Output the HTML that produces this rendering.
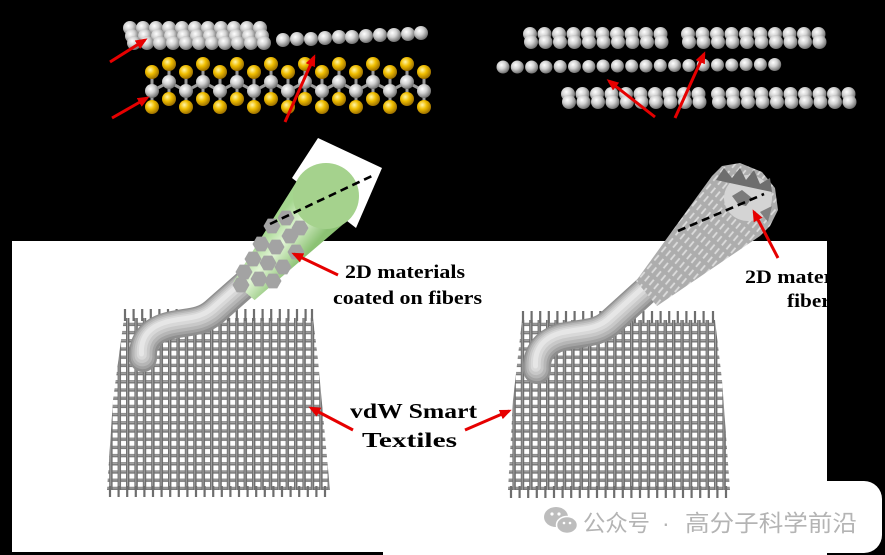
<!DOCTYPE html>
<html><head><meta charset="utf-8"><style>
html,body{margin:0;padding:0;background:#000;}
svg{display:block;}
</style></head><body>
<svg width="885" height="555" viewBox="0 0 885 555" xmlns="http://www.w3.org/2000/svg" xmlns:xlink="http://www.w3.org/1999/xlink">
<defs>
<radialGradient id="gg" cx="0.38" cy="0.35" r="0.68"><stop offset="0" stop-color="#ffffff"/><stop offset="0.45" stop-color="#d2d2d2"/><stop offset="1" stop-color="#6a6a6a"/></radialGradient>
<radialGradient id="yg" cx="0.38" cy="0.35" r="0.68"><stop offset="0" stop-color="#fff5a8"/><stop offset="0.45" stop-color="#f0be00"/><stop offset="1" stop-color="#986c00"/></radialGradient>
<circle id="s" r="7" fill="url(#gg)"/>
<circle id="sm" r="6.5" fill="url(#gg)"/>
<circle id="y" r="7" fill="url(#yg)"/>
<marker id="ah" markerWidth="12" markerHeight="10" refX="9" refY="5" orient="auto" markerUnits="userSpaceOnUse"><path d="M0,0 L12,5 L0,10 Z" fill="#e60000"/></marker>
<pattern id="mesh" width="8.4" height="8.2" patternUnits="userSpaceOnUse">
<rect width="8.4" height="8.2" fill="#ffffff"/>
<rect x="0" y="3" width="8.4" height="3.3" fill="#7c7c7c"/>
<rect x="0" y="0" width="3.4" height="8.2" fill="#6c6c6c"/>
<rect x="0.9" y="0" width="1.1" height="8.2" fill="#9e9e9e"/>
<rect x="3.4" y="3.8" width="5" height="1" fill="#a4a4a4"/>
</pattern>
<pattern id="flk" width="11" height="6" patternUnits="userSpaceOnUse" patternTransform="rotate(-50)">
<rect width="11" height="6" fill="#adadad"/>
<rect x="1" y="1.8" width="7" height="1.8" fill="#dcdcdc"/>
</pattern>
<linearGradient id="grn" gradientUnits="userSpaceOnUse" x1="267.6" y1="228.5" x2="302.4" y2="258.5">
<stop offset="0" stop-color="#a4d68e"/><stop offset="0.45" stop-color="#e2f5d6"/><stop offset="1" stop-color="#8cc274"/>
</linearGradient>
<polygon id="hx" points="8.5,0 4.25,7.4 -4.25,7.4 -8.5,0 -4.25,-7.4 4.25,-7.4" fill="#a3a3a3"/>
<path id="lt" d="M143,358 C142,342 150,331 168,326 C186,321 200,324 214,312 L248,282"/>
<path id="rt" d="M537,370 C536,354 544,342 562,337 C582,332 598,335 612,321 L654,283"/>
</defs>

<!-- backgrounds -->
<rect width="885" height="555" fill="#000"/>
<rect x="12" y="241" width="815" height="311" fill="#fff"/>
<rect x="383" y="540" width="444" height="15" fill="#fff"/>
<rect x="540" y="481" width="342" height="72" rx="18" fill="#fff"/>

<!-- top-left graphene -->
<g>
<use href="#s" x="130" y="28"/><use href="#s" x="143" y="28"/><use href="#s" x="156" y="28"/><use href="#s" x="169" y="28"/><use href="#s" x="182" y="28"/><use href="#s" x="195" y="28"/><use href="#s" x="208" y="28"/><use href="#s" x="221" y="28"/><use href="#s" x="234" y="28"/><use href="#s" x="247" y="28"/><use href="#s" x="260" y="28"/>
<use href="#s" x="132" y="36"/><use href="#s" x="145" y="36"/><use href="#s" x="158" y="36"/><use href="#s" x="171" y="36"/><use href="#s" x="184" y="36"/><use href="#s" x="197" y="36"/><use href="#s" x="210" y="36"/><use href="#s" x="223" y="36"/><use href="#s" x="236" y="36"/><use href="#s" x="249" y="36"/><use href="#s" x="262" y="36"/>
<use href="#s" x="134" y="43"/><use href="#s" x="147" y="43"/><use href="#s" x="160" y="43"/><use href="#s" x="173" y="43"/><use href="#s" x="186" y="43"/><use href="#s" x="199" y="43"/><use href="#s" x="212" y="43"/><use href="#s" x="225" y="43"/><use href="#s" x="238" y="43"/><use href="#s" x="251" y="43"/><use href="#s" x="264" y="43"/>
</g>
<g>
<use href="#s" x="283" y="40"/><use href="#s" x="297" y="39"/><use href="#s" x="311" y="39"/><use href="#s" x="325" y="38"/><use href="#s" x="339" y="37"/><use href="#s" x="352" y="37"/><use href="#s" x="366" y="36"/><use href="#s" x="380" y="35"/><use href="#s" x="394" y="35"/><use href="#s" x="408" y="34"/><use href="#s" x="421" y="33"/>
</g>

<!-- MoS2 -->
<g stroke="#9c9c9c" stroke-width="3" fill="none">
<polyline points="152,91 169,82 186,91 203,82 220,91 237,82 254,91 271,82 288,91 305,82 322,91 339,82 356,91 373,82 390,91 407,82 424,91"/>
<path d="M152,72V107M169,64V99M186,72V107M203,64V99M220,72V107M237,64V99M254,72V107M271,64V99M288,72V107M305,64V99M322,72V107M339,64V99M356,72V107M373,64V99M390,72V107M407,64V99M424,72V107"/>
</g>
<g>
<use href="#y" x="152" y="72"/><use href="#y" x="169" y="64"/><use href="#y" x="186" y="72"/><use href="#y" x="203" y="64"/><use href="#y" x="220" y="72"/><use href="#y" x="237" y="64"/><use href="#y" x="254" y="72"/><use href="#y" x="271" y="64"/><use href="#y" x="288" y="72"/><use href="#y" x="305" y="64"/><use href="#y" x="322" y="72"/><use href="#y" x="339" y="64"/><use href="#y" x="356" y="72"/><use href="#y" x="373" y="64"/><use href="#y" x="390" y="72"/><use href="#y" x="407" y="64"/><use href="#y" x="424" y="72"/>
<use href="#s" x="152" y="91"/><use href="#s" x="169" y="82"/><use href="#s" x="186" y="91"/><use href="#s" x="203" y="82"/><use href="#s" x="220" y="91"/><use href="#s" x="237" y="82"/><use href="#s" x="254" y="91"/><use href="#s" x="271" y="82"/><use href="#s" x="288" y="91"/><use href="#s" x="305" y="82"/><use href="#s" x="322" y="91"/><use href="#s" x="339" y="82"/><use href="#s" x="356" y="91"/><use href="#s" x="373" y="82"/><use href="#s" x="390" y="91"/><use href="#s" x="407" y="82"/><use href="#s" x="424" y="91"/>
<use href="#y" x="152" y="107"/><use href="#y" x="169" y="99"/><use href="#y" x="186" y="107"/><use href="#y" x="203" y="99"/><use href="#y" x="220" y="107"/><use href="#y" x="237" y="99"/><use href="#y" x="254" y="107"/><use href="#y" x="271" y="99"/><use href="#y" x="288" y="107"/><use href="#y" x="305" y="99"/><use href="#y" x="322" y="107"/><use href="#y" x="339" y="99"/><use href="#y" x="356" y="107"/><use href="#y" x="373" y="99"/><use href="#y" x="390" y="107"/><use href="#y" x="407" y="99"/><use href="#y" x="424" y="107"/>
</g>

<!-- top-right layers -->
<g>
<use href="#s" x="530" y="34"/><use href="#s" x="544.5" y="34"/><use href="#s" x="559" y="34"/><use href="#s" x="573.5" y="34"/><use href="#s" x="588" y="34"/><use href="#s" x="602.5" y="34"/><use href="#s" x="617" y="34"/><use href="#s" x="631.5" y="34"/><use href="#s" x="646" y="34"/><use href="#s" x="660.5" y="34"/>
<use href="#s" x="531" y="42"/><use href="#s" x="545.5" y="42"/><use href="#s" x="560" y="42"/><use href="#s" x="574.5" y="42"/><use href="#s" x="589" y="42"/><use href="#s" x="603.5" y="42"/><use href="#s" x="618" y="42"/><use href="#s" x="632.5" y="42"/><use href="#s" x="647" y="42"/><use href="#s" x="661.5" y="42"/>
<use href="#s" x="688" y="34"/><use href="#s" x="702.5" y="34"/><use href="#s" x="717" y="34"/><use href="#s" x="731.5" y="34"/><use href="#s" x="746" y="34"/><use href="#s" x="760.5" y="34"/><use href="#s" x="775" y="34"/><use href="#s" x="789.5" y="34"/><use href="#s" x="804" y="34"/><use href="#s" x="818.5" y="34"/>
<use href="#s" x="689" y="42"/><use href="#s" x="703.5" y="42"/><use href="#s" x="718" y="42"/><use href="#s" x="732.5" y="42"/><use href="#s" x="747" y="42"/><use href="#s" x="761.5" y="42"/><use href="#s" x="776" y="42"/><use href="#s" x="790.5" y="42"/><use href="#s" x="805" y="42"/><use href="#s" x="819.5" y="42"/>
</g>
<g>
<use href="#sm" x="503" y="67"/><use href="#sm" x="517.3" y="67"/><use href="#sm" x="531.6" y="67"/><use href="#sm" x="545.9" y="67"/><use href="#sm" x="560.2" y="66.5"/><use href="#sm" x="574.5" y="66.5"/><use href="#sm" x="588.8" y="66.5"/><use href="#sm" x="603.1" y="66"/><use href="#sm" x="617.4" y="66"/><use href="#sm" x="631.7" y="66"/><use href="#sm" x="646" y="66"/><use href="#sm" x="660.3" y="65.5"/><use href="#sm" x="674.6" y="65.5"/><use href="#sm" x="688.9" y="65.5"/><use href="#sm" x="703.2" y="65"/><use href="#sm" x="717.5" y="65"/><use href="#sm" x="731.8" y="65"/><use href="#sm" x="746.1" y="64.5"/><use href="#sm" x="760.4" y="64.5"/><use href="#sm" x="774.7" y="64.5"/>
</g>
<g>
<use href="#s" x="568" y="94"/><use href="#s" x="582.5" y="94"/><use href="#s" x="597" y="94"/><use href="#s" x="611.5" y="94"/><use href="#s" x="626" y="94"/><use href="#s" x="640.5" y="94"/><use href="#s" x="655" y="94"/><use href="#s" x="669.5" y="94"/><use href="#s" x="684" y="94"/><use href="#s" x="698.5" y="94"/>
<use href="#s" x="569" y="102"/><use href="#s" x="583.5" y="102"/><use href="#s" x="598" y="102"/><use href="#s" x="612.5" y="102"/><use href="#s" x="627" y="102"/><use href="#s" x="641.5" y="102"/><use href="#s" x="656" y="102"/><use href="#s" x="670.5" y="102"/><use href="#s" x="685" y="102"/><use href="#s" x="699.5" y="102"/>
<use href="#s" x="718" y="94"/><use href="#s" x="732.5" y="94"/><use href="#s" x="747" y="94"/><use href="#s" x="761.5" y="94"/><use href="#s" x="776" y="94"/><use href="#s" x="790.5" y="94"/><use href="#s" x="805" y="94"/><use href="#s" x="819.5" y="94"/><use href="#s" x="834" y="94"/><use href="#s" x="848.5" y="94"/>
<use href="#s" x="719" y="102"/><use href="#s" x="733.5" y="102"/><use href="#s" x="748" y="102"/><use href="#s" x="762.5" y="102"/><use href="#s" x="777" y="102"/><use href="#s" x="791.5" y="102"/><use href="#s" x="806" y="102"/><use href="#s" x="820.5" y="102"/><use href="#s" x="835" y="102"/><use href="#s" x="849.5" y="102"/>
</g>

<!-- textiles -->
<polygon points="124,318 313,318 318,360 330,490 107,490 113,400" fill="url(#mesh)"/>
<path d="M125,309V321M133.6,309V321M142.2,309V321M150.8,309V321M159.4,309V321M168,309V321M176.6,309V321M185.2,309V321M193.8,309V321M202.4,309V321M211,309V321M219.6,309V321M228.2,309V321M236.8,309V321M245.4,309V321M254,309V321M262.6,309V321M271.2,309V321M279.8,309V321M288.4,309V321M297,309V321M305.6,309V321M312,309V321" stroke="#6e6e6e" stroke-width="2.2"/>
<path d="M110,486V497M118.6,486V497M127.2,486V497M135.8,486V497M144.4,486V497M153,486V497M161.6,486V497M170.2,486V497M178.8,486V497M187.4,486V497M196,486V497M204.6,486V497M213.2,486V497M221.8,486V497M230.4,486V497M239,486V497M247.6,486V497M256.2,486V497M264.8,486V497M273.4,486V497M282,486V497M290.6,486V497M299.2,486V497M307.8,486V497M316.4,486V497M325,486V497" stroke="#6e6e6e" stroke-width="2.2"/>

<polygon points="522,320 715,320 722,380 730,490 508,490 513,400" fill="url(#mesh)"/>
<path d="M523,311V323M531.6,311V323M540.2,311V323M548.8,311V323M557.4,311V323M566,311V323M574.6,311V323M583.2,311V323M591.8,311V323M600.4,311V323M609,311V323M617.6,311V323M626.2,311V323M634.8,311V323M643.4,311V323M652,311V323M660.6,311V323M669.2,311V323M677.8,311V323M686.4,311V323M695,311V323M703.6,311V323M713,311V323" stroke="#6e6e6e" stroke-width="2.2"/>
<path d="M511,486V498M519.6,486V498M528.2,486V498M536.8,486V498M545.4,486V498M554,486V498M562.6,486V498M571.2,486V498M579.8,486V498M588.4,486V498M597,486V498M605.6,486V498M614.2,486V498M622.8,486V498M631.4,486V498M640,486V498M648.6,486V498M657.2,486V498M665.8,486V498M674.4,486V498M683,486V498M691.6,486V498M700.2,486V498M708.8,486V498M717.4,486V498M726,486V498" stroke="#6e6e6e" stroke-width="2.2"/>

<!-- left fiber -->
<polygon points="292,178 318,138 382,168 356,228" fill="#fff"/>
<g fill="none" stroke-linecap="round">
<use href="#lt" stroke="#8e8e8e" stroke-width="28"/>
<use href="#lt" stroke="#a2a2a2" stroke-width="24" transform="translate(-0.3,-0.8)"/>
<use href="#lt" stroke="#b6b6b6" stroke-width="20" transform="translate(-0.6,-1.6)"/>
<use href="#lt" stroke="#c8c8c8" stroke-width="15" transform="translate(-0.9,-2.4)"/>
<use href="#lt" stroke="#d8d8d8" stroke-width="10" transform="translate(-1.2,-3.2)"/>
<use href="#lt" stroke="#e6e6e6" stroke-width="5" transform="translate(-1.5,-4)"/>
</g>
<polygon points="233.4,281.9 301,174.5 351,217.5 254.6,300.1" fill="url(#grn)"/>
<circle cx="326" cy="196" r="33" fill="#a5d28d"/>
<g>
<use href="#hx" x="272" y="226"/><use href="#hx" x="286" y="218"/><use href="#hx" x="290" y="236"/><use href="#hx" x="276" y="247"/><use href="#hx" x="261" y="244"/><use href="#hx" x="296" y="252"/><use href="#hx" x="253" y="259"/><use href="#hx" x="268" y="263"/><use href="#hx" x="283" y="267"/><use href="#hx" x="244" y="272"/><use href="#hx" x="259" y="279"/><use href="#hx" x="241" y="285"/><use href="#hx" x="273" y="281"/><use href="#hx" x="300" y="228"/>
</g>
<line x1="270" y1="224" x2="374" y2="175" stroke="#000" stroke-width="2.6" stroke-dasharray="8,5"/>

<!-- right fiber -->
<g fill="none" stroke-linecap="round">
<use href="#rt" stroke="#8e8e8e" stroke-width="28"/>
<use href="#rt" stroke="#a2a2a2" stroke-width="24" transform="translate(-0.3,-0.8)"/>
<use href="#rt" stroke="#b6b6b6" stroke-width="20" transform="translate(-0.6,-1.6)"/>
<use href="#rt" stroke="#c8c8c8" stroke-width="15" transform="translate(-0.9,-2.4)"/>
<use href="#rt" stroke="#d8d8d8" stroke-width="10" transform="translate(-1.2,-3.2)"/>
<use href="#rt" stroke="#e6e6e6" stroke-width="5" transform="translate(-1.5,-4)"/>
</g>
<polygon points="636,281 712,176 722,166 740,163 762,172 775,188 778,210 770,226 760,236 657,306" fill="url(#flk)"/>
<ellipse cx="748" cy="198" rx="24" ry="23" fill="#d4d4d4"/>
<polygon points="716,180 724,168 732,178 740,168 746,180 754,170 760,184 770,178 772,192" fill="#6e6e6e"/>
<polygon points="732,196 742,190 752,198 746,206 738,204" fill="#7a7a7a"/>
<polygon points="760,212 772,206 768,222" fill="#808080"/>
<line x1="678" y1="231" x2="764" y2="194" stroke="#000" stroke-width="2.6" stroke-dasharray="8,5"/>

<!-- arrows -->
<g stroke="#e60000" stroke-width="3" marker-end="url(#ah)">
<line x1="110" y1="62" x2="145" y2="40"/>
<line x1="112" y1="118" x2="147" y2="98"/>
<line x1="285" y1="122" x2="314" y2="57"/>
<line x1="655" y1="117" x2="609" y2="81"/>
<line x1="675" y1="118" x2="704" y2="54"/>
<line x1="338" y1="275" x2="294" y2="254"/>
<line x1="353" y1="430" x2="311" y2="408"/>
<line x1="465" y1="430" x2="509" y2="411"/>
<line x1="778" y1="258" x2="754" y2="212"/>
</g>

<!-- labels -->
<g font-family="'Liberation Serif', serif" font-weight="bold" fill="#000">
<text x="345" y="278" font-size="19" textLength="120" lengthAdjust="spacingAndGlyphs">2D materials</text>
<text x="333" y="304" font-size="19" textLength="149" lengthAdjust="spacingAndGlyphs">coated on fibers</text>
<text x="350" y="418" font-size="21" textLength="127" lengthAdjust="spacingAndGlyphs">vdW Smart</text>
<text x="362" y="447" font-size="21" textLength="95" lengthAdjust="spacingAndGlyphs">Textiles</text>
<text x="745" y="283" font-size="19" textLength="120" lengthAdjust="spacingAndGlyphs">2D materials</text>
<text x="787" y="307" font-size="19" textLength="52" lengthAdjust="spacingAndGlyphs">fibers</text>
</g>
<rect x="827" y="241" width="58" height="240" fill="#000"/>

<!-- watermark -->
<g>
<ellipse cx="556" cy="517" rx="12" ry="10" fill="#bdbdbd"/>
<ellipse cx="567" cy="525" rx="10.5" ry="8.5" fill="#bdbdbd" stroke="#fff" stroke-width="1.5"/>
<circle cx="552" cy="514" r="1.6" fill="#fff"/><circle cx="559" cy="514" r="1.6" fill="#fff"/>
<circle cx="564" cy="523" r="1.3" fill="#fff"/><circle cx="570" cy="523" r="1.3" fill="#fff"/>
</g>
<g font-family="'Liberation Sans', 'Noto Sans CJK SC', sans-serif" font-size="23" fill="#b4b4b4">
<text x="583" y="531" textLength="67" lengthAdjust="spacingAndGlyphs">公众号</text>
<text x="662" y="531">·</text>
<text x="685" y="531" textLength="172" lengthAdjust="spacingAndGlyphs">高分子科学前沿</text>
</g>
<rect x="0" y="552" width="383" height="3" fill="#000"/>
</svg>
</body></html>
